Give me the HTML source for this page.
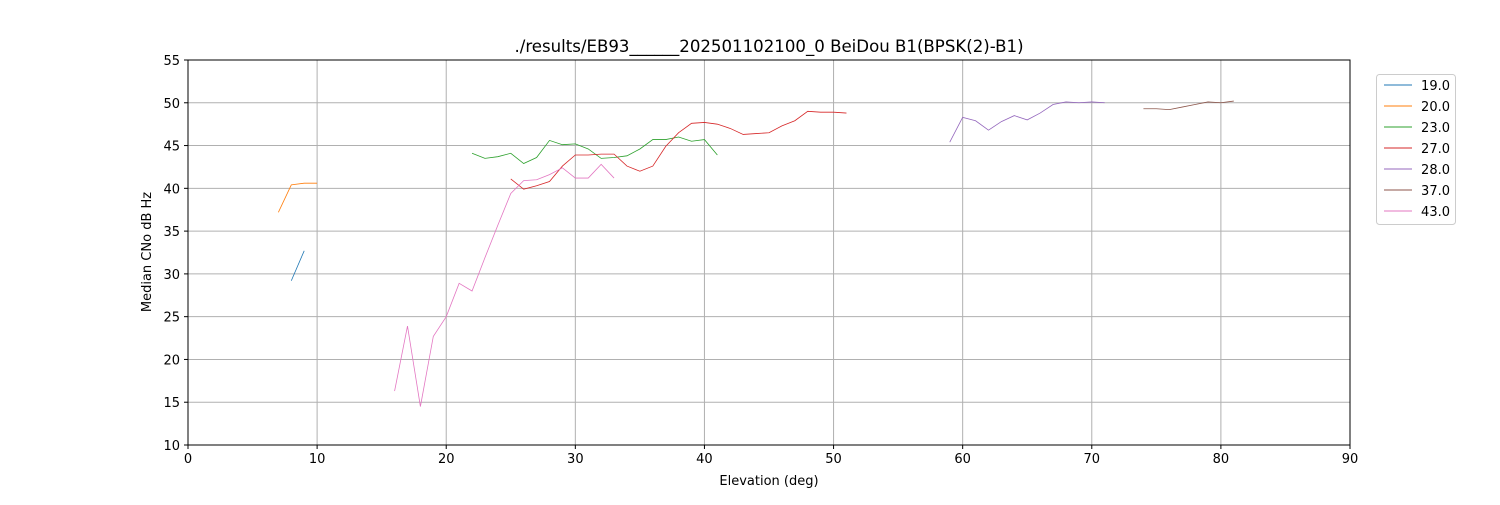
<!DOCTYPE html>
<html><head><meta charset="utf-8"><style>
body{margin:0;background:#fff;font-family:"Liberation Sans","DejaVu Sans",sans-serif}
svg text{font-family:"DejaVu Sans","Liberation Sans",sans-serif}
</style></head><body>
<svg id="chart" width="1500" height="500">
<rect width="1500" height="500" fill="#fff"/>
<g id="grid"></g><g id="series"></g><g id="axes"></g><g id="legend"></g>
<text x="769" y="52" text-anchor="middle" font-size="16.6">./results/EB93______202501102100_0 BeiDou B1(BPSK(2)-B1)</text>
<text x="769" y="485" text-anchor="middle" font-size="13">Elevation (deg)</text>
<text transform="translate(151,252) rotate(-90)" text-anchor="middle" font-size="13">Median CNo dB Hz</text>
</svg>
<script>
const xTicks=[0,10,20,30,40,50,60,70,80,90];
const yTicks=[10,15,20,25,30,35,40,45,50,55];
const seriesNames=["19.0","20.0","23.0","27.0","28.0","37.0","43.0"];
const seriesColors=["#1f77b4","#ff7f0e","#2ca02c","#d62728","#9467bd","#8c564b","#e377c2"];
const s19x=[8,9];const s19y=[29.2,32.7];
const s20x=[7,8,9,10];const s20y=[37.2,40.4,40.6,40.6];
const s23x=[22,23,24,25,26,27,28,29,30,31,32,33,34,35,36,37,38,39,40,41];
const s23y=[44.1,43.5,43.7,44.1,42.9,43.6,45.6,45.1,45.2,44.6,43.5,43.6,43.8,44.6,45.7,45.7,46.0,45.5,45.7,43.9];
const s27x=[25,26,27,28,29,30,31,32,33,34,35,36,37,38,39,40,41,42,43,44,45,46,47,48,49,50,51];
const s27y=[41.1,39.9,40.3,40.8,42.6,43.9,43.9,44.0,44.0,42.6,42.0,42.6,44.9,46.5,47.6,47.7,47.5,47.0,46.3,46.4,46.5,47.3,47.9,49.0,48.9,48.9,48.8];
const s28x=[59,60,61,62,63,64,65,66,67,68,69,70,71];
const s28y=[45.4,48.3,47.9,46.8,47.8,48.5,48.0,48.8,49.8,50.1,50.0,50.1,50.0];
const s37x=[74,75,76,77,78,79,80,81];
const s37y=[49.3,49.3,49.2,49.5,49.8,50.1,50.0,50.2];
const s43x=[16,17,18,19,20,21,22,23,24,25,26,27,28,29,30,31,32,33];
const s43y=[16.3,23.9,14.5,22.7,25.0,28.9,28.0,31.9,35.7,39.4,40.9,41.0,41.6,42.4,41.2,41.2,42.8,41.2];
const allX=[s19x,s20x,s23x,s27x,s28x,s37x,s43x];
const allY=[s19y,s20y,s23y,s27y,s28y,s37y,s43y];
const L=188,R=1350,T=60,B=445;
const xs=v=>L+(v-0)/(90-0)*(R-L);
const ys=v=>B-(v-10)/(55-10)*(B-T);
const NS="http://www.w3.org/2000/svg";
function mk(tag,attrs,parent){const e=document.createElementNS(NS,tag);for(const k in attrs)e.setAttribute(k,attrs[k]);parent.appendChild(e);return e;}
const grid=document.getElementById('grid'),axes=document.getElementById('axes'),ser=document.getElementById('series'),leg=document.getElementById('legend');
xTicks.forEach(t=>{const x=xs(t);
 const g=mk('line',{x1:x,x2:x,y1:T,y2:B,stroke:'#b0b0b0','stroke-width':1},grid);
 
 
 mk('line',{x1:x,x2:x,y1:B,y2:B+4,stroke:'#000'},axes);
 const tx=mk('text',{x:x,y:B+18,'text-anchor':'middle','font-size':13},axes);tx.textContent=t;
 
 });
yTicks.forEach(t=>{const y=ys(t);
 const g=mk('line',{x1:L,x2:R,y1:y,y2:y,stroke:'#b0b0b0','stroke-width':1},grid);
 
 
 mk('line',{x1:L-4,x2:L,y1:y,y2:y,stroke:'#000'},axes);
 const tx=mk('text',{x:L-8,y:y+5,'text-anchor':'end','font-size':13},axes);tx.textContent=t;
 
 });
const fr=mk('rect',{x:L,y:T,width:R-L,height:B-T,fill:'none',stroke:'#000','stroke-width':1},axes);


allX.forEach((xa,i)=>{const pts=xa.map((v,j)=>xs(v)+','+ys(allY[i][j])).join(' ');
 const p=mk('polyline',{points:pts,fill:'none',stroke:seriesColors[i],'stroke-width':0.8},ser);
 
 });
const lb=mk('rect',{x:1376.5,y:74.5,width:79,height:150,rx:3,fill:'#fff',stroke:'#ccc'},leg);


seriesNames.forEach((n,i)=>{const y=85+i*21;
 const g=mk('g',{},leg);
 
 
 mk('line',{x1:1384,x2:1412,y1:y,y2:y,stroke:seriesColors[i],'stroke-width':1},g);
 const t=mk('text',{x:1450,y:y+5,'text-anchor':'end','font-size':13},g);t.textContent=n;});
</script>
</body></html>
